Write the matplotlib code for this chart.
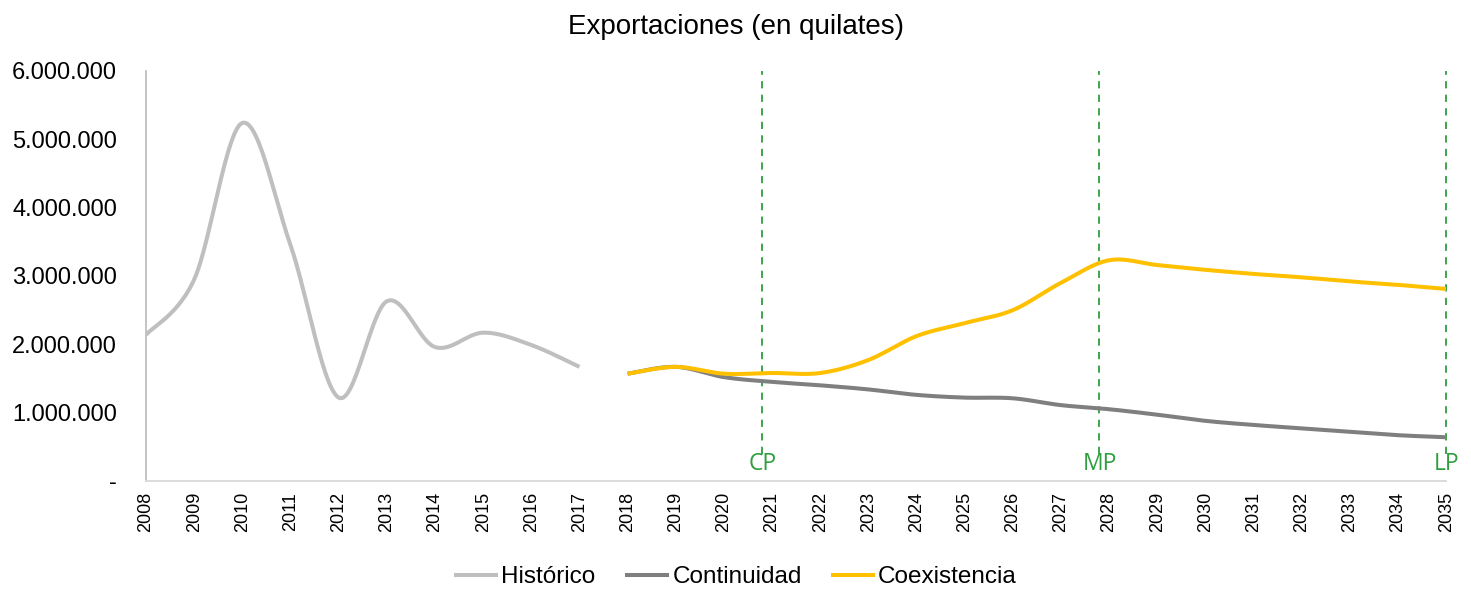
import numpy as np
import matplotlib
matplotlib.use("Agg")
import matplotlib.pyplot as plt
from matplotlib.ticker import FuncFormatter

years_hist = [2008, 2009, 2010, 2011, 2012, 2013, 2014, 2015, 2016, 2017]
historico = [2140000, 2950000, 5240000, 3450000, 1220000, 2630000, 1960000, 2170000, 1990000, 1670000]

years_proj = list(range(2018, 2036))
continuidad = [1570000, 1670000, 1520000, 1450000, 1400000, 1340000, 1260000, 1220000, 1210000,
               1110000, 1050000, 970000, 880000, 820000, 770000, 720000, 670000, 640000]
coexistencia = [1570000, 1670000, 1570000, 1580000, 1580000, 1770000, 2120000, 2310000, 2500000,
                2900000, 3230000, 3160000, 3090000, 3030000, 2980000, 2920000, 2870000, 2810000]

horizons = ["CP", "MP", "LP"]
horizon_pos = [2020.8, 2027.8, 2035.0]

all_years = list(range(2008, 2036))
yticks = [0, 1000000, 2000000, 3000000, 4000000, 5000000, 6000000]


def smooth(x, y, n=30):
    x = np.asarray(x, float)
    y = np.asarray(y, float)
    P = np.column_stack([x, y])
    Pp = np.vstack([P[0], P, P[-1]])
    out = []
    t = np.linspace(0, 1, n)
    for i in range(len(P) - 1):
        p0, p1, p2, p3 = Pp[i], Pp[i + 1], Pp[i + 2], Pp[i + 3]
        c1 = p1 + (p2 - p0) / 6.0
        c2 = p2 - (p3 - p1) / 6.0
        seg = ((1 - t) ** 3)[:, None] * p1 + (3 * (1 - t) ** 2 * t)[:, None] * c1 \
            + (3 * (1 - t) * t ** 2)[:, None] * c2 + (t ** 3)[:, None] * p2
        out.append(seg if i == 0 else seg[1:])
    s = np.vstack(out)
    return s[:, 0], s[:, 1]


plt.rcParams['font.family'] = ['Liberation Sans', 'DejaVu Sans']

fig = plt.figure(figsize=(14.71, 5.89), dpi=100)
ax = fig.add_axes([0.0993, 0.1834, 0.8838, 0.6961])

hx, hy = smooth(years_hist, historico)
ax.plot(hx, hy, color='#BFBFBF', lw=2.9, solid_capstyle='butt', label='Histórico')
cx, cy = smooth(years_proj, continuidad)
ax.plot(cx, cy, color='#7F7F7F', lw=2.9, solid_capstyle='butt', label='Continuidad')
gx, gy = smooth(years_proj, coexistencia)
ax.plot(gx, gy, color='#FFC000', lw=2.9, solid_capstyle='butt', label='Coexistencia')

for name, xp in zip(horizons, horizon_pos):
    ax.plot([xp, xp], [400000, 6000000], color='#2E9E3E', lw=1.3, ls=(0, (4, 3.5)),
            zorder=1, clip_on=False)
    ax.text(xp, 70000, name, color='#2E9E3E', fontsize=16.5, ha='center', va='bottom',
            family=['Open Sans', 'DejaVu Sans'])

ax.set_xlim(2008, 2035)
ax.set_ylim(0, 6000000)
ax.set_xticks(all_years)
ax.set_xticklabels([str(y) for y in all_years], rotation=90, fontsize=13)
ax.set_yticks(yticks)
ax.yaxis.set_major_formatter(FuncFormatter(
    lambda v, p: '-' if v == 0 else f"{int(v):,}".replace(',', '.')))
ax.tick_params(axis='y', labelsize=17, length=0, pad=21)
ax.tick_params(axis='x', length=0, pad=8)

for s in ['top', 'right']:
    ax.spines[s].set_visible(False)
ax.spines['left'].set_color('#BFBFBF')
ax.spines['left'].set_linewidth(1.3)
ax.spines['bottom'].set_color('#D9D9D9')
ax.spines['bottom'].set_linewidth(1.3)

fig.text(0.5, 0.955, 'Exportaciones (en quilates)', ha='center', va='center', fontsize=20)

leg = fig.legend(loc='center', bbox_to_anchor=(0.5, 0.02), ncol=3, frameon=False,
                 fontsize=17.5, handlelength=1.8, handletextpad=0.15, columnspacing=1.2)

fig.savefig('out.png', dpi=100)
